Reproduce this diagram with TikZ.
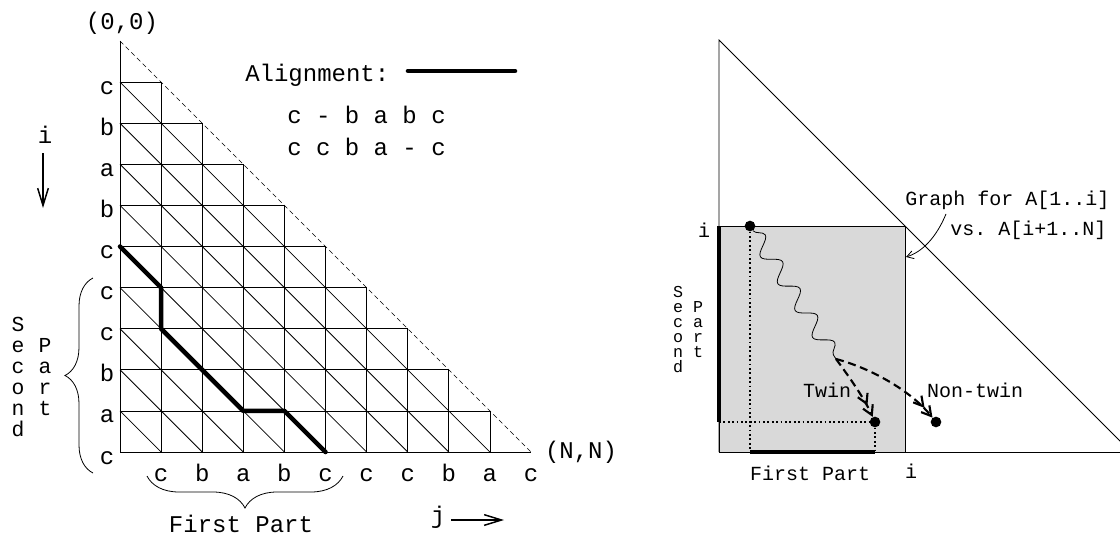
\documentclass[tikz,border=0pt]{standalone}
\usepackage{fontspec}
\setmonofont{Liberation Mono}
\usepackage{tikz}
\usetikzlibrary{arrows.meta,decorations.pathmorphing,decorations.pathreplacing}
\definecolor{dpInk}{HTML}{000000}
\definecolor{dpShade}{HTML}{D9D9D9}
\tikzset{
  dp diagram/.style={x=0.75pt, y=-0.75pt},
  dp grid/.style={draw=dpInk, line width=0.6pt},
  dp bound/.style={draw=dpInk, line width=0.5pt, dash pattern=on 3.5pt off 2.5pt},
  dp path/.style={draw=dpInk, line width=3.4pt, line cap=round, line join=round},
  dp label/.style={font=\ttfamily\fontsize{18}{20}\selectfont, text=dpInk, inner sep=0pt},
  dp small/.style={font=\ttfamily\fontsize{15}{17}\selectfont, text=dpInk, inner sep=0pt},
  dp stack/.style={font=\ttfamily\fontsize{16}{15.75}\selectfont, align=center, inner sep=0pt},
  dp small stack/.style={font=\ttfamily\fontsize{12.5}{11.25}\selectfont, align=center, inner sep=0pt},
  dp brace/.style={draw=dpInk, line width=0.6pt, decorate, decoration={brace, amplitude=#1}},
  dp brace below/.style={draw=dpInk, line width=0.6pt, decorate, decoration={brace, mirror, amplitude=#1}},
  dp axis/.style={draw=dpInk, line width=1.1pt, -{Straight Barb[length=13pt,width=8pt]}},
  dp bar/.style={draw=dpInk, line width=3pt},
  dp guide/.style={draw=dpInk, line width=1.3pt, dotted},
  dp walk/.style={draw=dpInk, line width=0.6pt, decorate,
    decoration={snake, amplitude=6pt, segment length=24pt}},
  dp jump/.style={draw=dpInk, line width=1.6pt, dash pattern=on 6pt off 3.5pt,
    -{Straight Barb[length=7pt,width=8pt] Straight Barb[length=7pt,width=8pt]}},
  dp point/.style={circle, fill=dpInk, minimum size=8pt, inner sep=0pt},
  dp note/.style={draw=dpInk, line width=0.6pt, -{Straight Barb[length=5pt,width=6pt]}}
}

\begin{document}
\begin{tikzpicture}[dp diagram]
\useasboundingbox (0,0) rectangle (1120,535);

% left: edit graph of the whole string
\foreach \c in {0,...,10}
  \foreach \r in {\c,...,10}
    \coordinate (g\c-\r) at ({120+41.1*\c},{41+41.1*\r});
\foreach \k in {1,...,10}
  \draw[dp grid] (g0-\k) -- (g\k-\k);
\foreach \k in {0,...,9}
  \draw[dp grid] (g\k-\k) -- (g\k-10);
\foreach \k [evaluate=\k as \e using int(10-\k)] in {1,...,9}
  \draw[dp grid] (g0-\k) -- (g\e-10);
\draw[dp bound] (g0-0) -- (g10-10);
\draw[dp path] (g0-5) -- (g1-6) -- (g1-7) -- (g3-9) -- (g4-9) -- (g5-10);

\foreach \ch [count=\r] in {c,b,a,b,c,c,c,b,a,c}
  \node[dp label, anchor=base] (row\r) at (107,{41+41.1*\r+12}) {\ch};
\foreach \ch [count=\c] in {c,b,a,b,c,c,c,b,a,c}
  \node[dp label, anchor=base] (col\c) at ({120+41.1*\c},481) {\ch};

\node[dp label, anchor=base] (origin) at (122,30) {(0,0)};
\node[dp label, anchor=base] (corner) at (581,458) {(N,N)};

\node[dp label, anchor=base] (ilab) at (45,143) {i};
\coordinate (itop) at (43,153);
\coordinate (ibot) at (43,208);
\draw[dp axis] (itop) -- (ibot);
\node[dp label, anchor=base] (jlab) at (438,523) {j};
\coordinate (jleft) at (451,520);
\coordinate (jright) at (504,520);
\draw[dp axis] (jleft) -- (jright);

\node[dp label, anchor=base west] (alnote) at (245,82) {Alignment:};
\coordinate (alA) at (408,71);
\coordinate (alB) at (515,71);
\draw[dp path] (alA) -- (alB);
\node[dp label, anchor=base west] (topseq) at (287,123) {c - b a b c};
\node[dp label, anchor=base west] (botseq) at (287,155) {c c b a - c};

\coordinate (lbraceA) at (93,473);
\coordinate (lbraceB) at (93,278);
\draw[dp brace=21pt] (lbraceA) -- (lbraceB);
\node[dp stack] (second) at (18,377) {S\\e\\c\\o\\n\\d};
\node[dp stack] (part) at (45,377) {P\\a\\r\\t};

\coordinate (bbraceA) at (147,476);
\coordinate (bbraceB) at (343,476);
\draw[dp brace below=24pt] (bbraceA) -- (bbraceB);
\node[dp label, anchor=base] (first) at (241,532) {First Part};

% right: graph of one split
\coordinate (apex) at (719,40);
\coordinate (base) at (719,452);
\coordinate (baseR) at (1120,452);
\coordinate (hypoEnd) at (1131,452);
\fill[dpShade] (719,226) rectangle (905,452);
\draw[dp grid] (719,226) rectangle (905,452);
\draw[dp grid] (base) -- (apex) -- (hypoEnd);
\draw[dp grid] (base) -- (baseR);

\node[dp point] (src) at (750,226) {};
\node[dp point] (twin) at (875,422) {};
\node[dp point] (nontwin) at (936,422) {};
\coordinate (split) at (836,359);
\coordinate (leftbar) at (719,422);
\coordinate (lefttop) at (719,226);
\coordinate (srcfoot) at (750,452);
\coordinate (twinfoot) at (875,452);

\draw[dp guide] (src) -- (srcfoot);
\draw[dp guide] (leftbar) -- (twin);
\draw[dp guide] (twin) -- (twinfoot);
\draw[dp bar] (lefttop) -- (leftbar);
\draw[dp bar] (srcfoot) -- (twinfoot);

\draw[dp walk] (src) -- (split);
\draw[dp jump] (split) .. controls (850,378) and (864,398) .. (twin);
\draw[dp jump] (split) .. controls (870,368) and (910,390) .. (nontwin);

\node[dp small, anchor=base] (twinlab) at (827,397) {Twin};
\node[dp small, anchor=base] (nontwinlab) at (975,397) {Non-twin};
\node[dp small, anchor=base] (ileft) at (704,237) {i};
\node[dp small, anchor=base] (ibase) at (911,478) {i};
\node[dp small, anchor=base] (firstR) at (810,480) {First Part};
\node[dp small stack] (secondR) at (678,330) {S\\e\\c\\o\\n\\d};
\node[dp small stack] (partR) at (698,330) {P\\a\\r\\t};

\node[dp small, anchor=base west] (graphlab) at (905,205) {Graph for A[1..i]};
\node[dp small, anchor=base west] (vslab) at (950,235) {vs. A[i+1..N]};
\coordinate (noteA) at (946,214);
\coordinate (noteB) at (906,257);
\draw[dp note] (noteA) .. controls (936,238) and (922,252) .. (noteB);
\end{tikzpicture}
\end{document}
